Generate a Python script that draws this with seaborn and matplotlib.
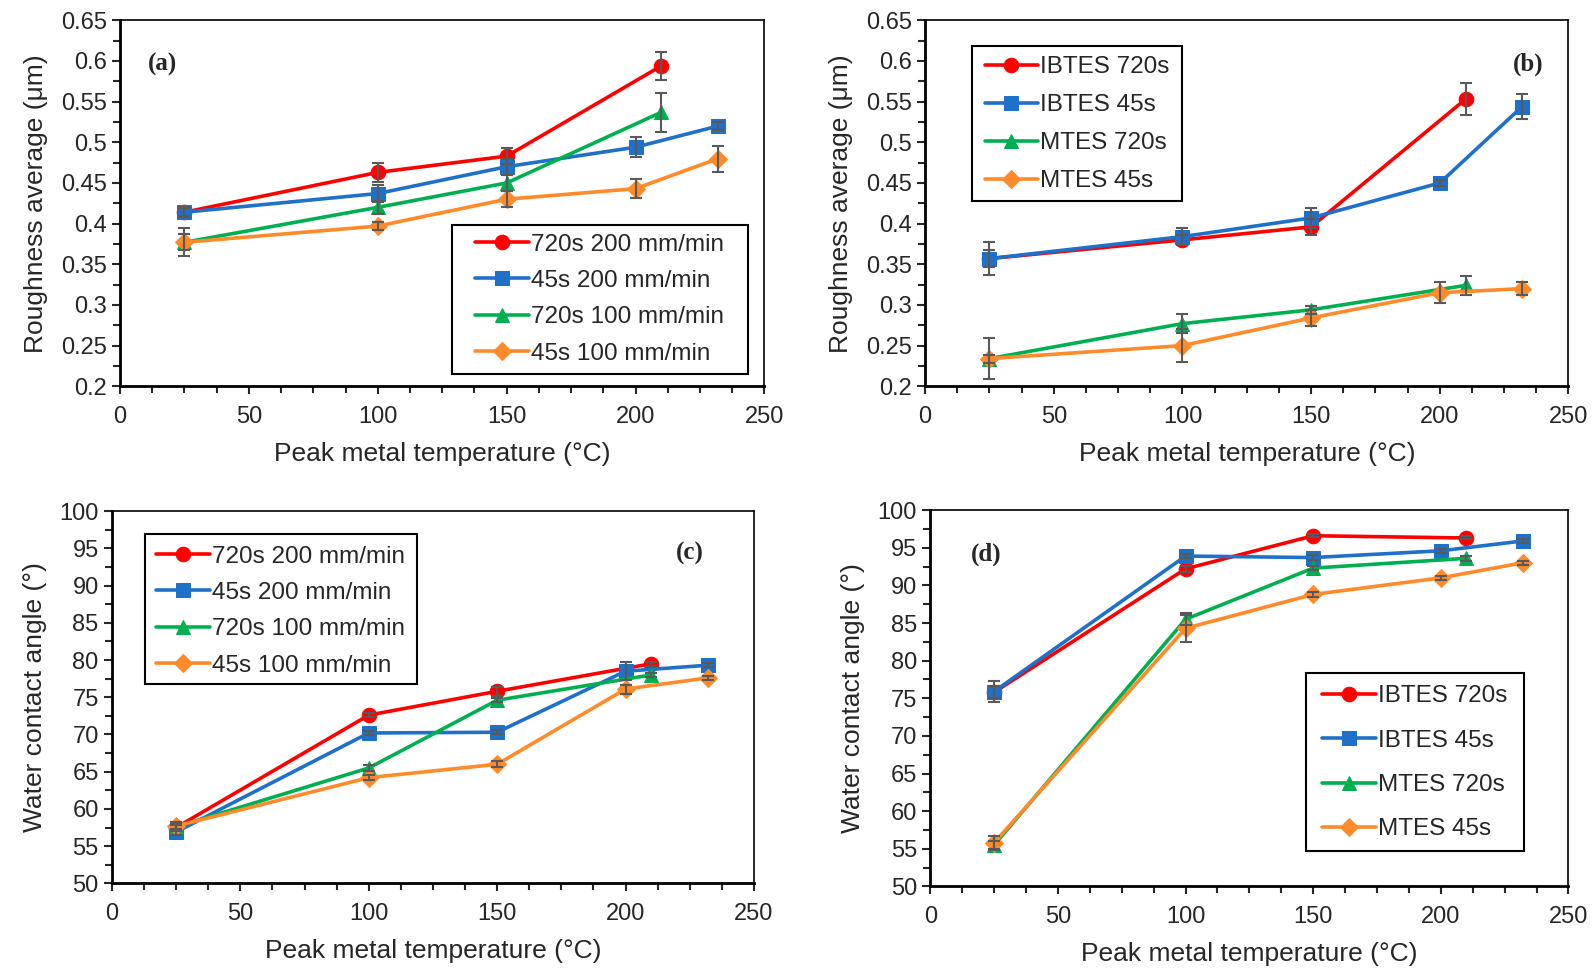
import numpy as np
import pandas as pd
import seaborn as sns
import matplotlib.pyplot as plt
from matplotlib.patches import Rectangle
from matplotlib.ticker import MultipleLocator, FuncFormatter

# ---- data ----
temp_720 = [25, 100, 150, 210]
temp_45 = [25, 100, 150, 200, 232]

# (a) roughness, crosslinked at two speeds
ra_720_200 = [0.414, 0.463, 0.483, 0.594]
ra_720_200_err = [0.005, 0.012, 0.010, 0.017]
ra_45_200 = [0.414, 0.437, 0.470, 0.494, 0.520]
ra_45_200_err = [0.006, 0.010, 0.010, 0.012, 0.005]
ra_720_100 = [0.377, 0.420, 0.450, 0.537]
ra_720_100_err = [0.017, 0.008, 0.010, 0.024]
ra_45_100 = [0.377, 0.397, 0.430, 0.443, 0.480]
ra_45_100_err = [0.010, 0.005, 0.010, 0.012, 0.016]

# (b) roughness, silane type
rb_ibtes_720 = [0.357, 0.380, 0.396, 0.553]
rb_ibtes_720_err = [0.010, 0.006, 0.010, 0.020]
rb_ibtes_45 = [0.357, 0.384, 0.407, 0.450, 0.544]
rb_ibtes_45_err = [0.020, 0.010, 0.012, 0.004, 0.015]
rb_mtes_720 = [0.234, 0.277, 0.294, 0.324]
rb_mtes_720_err = [0.005, 0.012, 0.005, 0.012]
rb_mtes_45 = [0.234, 0.250, 0.284, 0.315, 0.320]
rb_mtes_45_err = [0.025, 0.020, 0.010, 0.013, 0.008]

# (c) water contact angle, two speeds
wc_720_200 = [57.5, 72.6, 75.8, 79.5]
wc_720_200_err = [0.3, 0.3, 0.6, 0.3]
wc_45_200 = [56.9, 70.2, 70.3, 78.5, 79.3]
wc_45_200_err = [0.4, 0.3, 0.3, 1.2, 0.3]
wc_720_100 = [57.6, 65.5, 74.6, 78.0]
wc_720_100_err = [0.5, 0.4, 0.3, 0.3]
wc_45_100 = [57.7, 64.2, 66.0, 76.1, 77.6]
wc_45_100_err = [0.6, 0.3, 0.4, 0.6, 0.3]

# (d) water contact angle, silane type
wd_ibtes_720 = [75.8, 92.2, 96.6, 96.3]
wd_ibtes_720_err = [0.8, 0.4, 0.2, 0.2]
wd_ibtes_45 = [75.9, 93.9, 93.7, 94.6, 95.9]
wd_ibtes_45_err = [1.4, 0.3, 0.3, 0.3, 0.3]
wd_mtes_720 = [55.5, 85.5, 92.3, 93.6]
wd_mtes_720_err = [0.5, 0.8, 0.3, 0.3]
wd_mtes_45 = [55.8, 84.3, 88.8, 91.0, 93.0]
wd_mtes_45_err = [0.9, 1.8, 0.3, 0.3, 0.3]

labels_speed = ["720s 200 mm/min", "45s 200 mm/min", "720s 100 mm/min", "45s 100 mm/min"]
labels_silane = ["IBTES 720s", "IBTES 45s", "MTES 720s", "MTES 45s"]

colors = ["#FF0000", "#1F70C8", "#00B050", "#FF8A2A"]
markers = ["o", "s", "^", "D"]


def draw_panel(ax, series, names, letter, letter_pos, ylim, ymajor, yminor, ylabel,
               legend_bbox, legend_spacing):
    for i, (xs, ys, es) in enumerate(series):
        df = pd.DataFrame({"x": xs, "y": ys})
        sns.lineplot(data=df, x="x", y="y", ax=ax, color=colors[i], marker=markers[i],
                     markersize=10.5 if markers[i] != "D" else 9, markeredgecolor=colors[i],
                     linewidth=2.6, label=names[i], zorder=3 + i * 0.1)
        ax.errorbar(xs, ys, yerr=es, fmt="none", ecolor="#595959", elinewidth=1.5,
                    capsize=4, capthick=1.5, zorder=4)

    ax.set_xlim(0, 250)
    ax.set_ylim(*ylim)
    ax.xaxis.set_major_locator(MultipleLocator(50))
    ax.xaxis.set_minor_locator(MultipleLocator(12.5))
    ax.yaxis.set_major_locator(MultipleLocator(ymajor))
    ax.yaxis.set_minor_locator(MultipleLocator(yminor))
    ax.yaxis.set_major_formatter(FuncFormatter(lambda v, p: f"{v:g}"))
    ax.tick_params(which="major", direction="out", length=6, width=1.5, labelsize=17)
    ax.tick_params(axis="x", which="major", pad=8)
    ax.tick_params(which="minor", direction="out", length=5, width=1.5)
    for name, s in ax.spines.items():
        s.set_visible(True)
        s.set_linewidth(2.0 if name in ("left", "bottom") else 1.2)
        s.set_color("black")
    ax.set_xlabel("Peak metal temperature (°C)", fontsize=19, labelpad=10)
    ax.set_ylabel(ylabel, fontsize=19, labelpad=9)
    ax.text(letter_pos[0], letter_pos[1], letter, transform=ax.transAxes,
            fontsize=18, fontweight="bold", family=["Liberation Serif", "DejaVu Serif"],
            ha="center", va="center")
    leg = ax.legend(loc="upper left", bbox_to_anchor=legend_bbox, fontsize=17.5,
                    frameon=False, handlelength=2.2, handletextpad=0.1,
                    labelspacing=legend_spacing, borderpad=0.3, borderaxespad=0)
    leg.set_zorder(5)
    return leg


def frame_legend(fig, ax, leg, side_pad, top_pad=0, bottom_pad=0):
    # box around the legend, padded separately on the sides / top / bottom
    bb = leg.get_window_extent(fig.canvas.get_renderer())
    inv = ax.transAxes.inverted()
    (x0, y0), (x1, y1) = inv.transform([(bb.x0 - side_pad, bb.y0 - bottom_pad),
                                        (bb.x1 + side_pad, bb.y1 + top_pad)])
    ax.add_patch(Rectangle((x0, y0), x1 - x0, y1 - y0, transform=ax.transAxes,
                           facecolor="white", edgecolor="black", linewidth=1.5,
                           zorder=4.8, clip_on=False))


sns.set_style("ticks")
plt.rcParams["font.family"] = ["Liberation Sans", "DejaVu Sans"]

fig = plt.figure(figsize=(15.94, 9.68), dpi=100)
ax_a = fig.add_axes([0.0753, 0.601, 0.4043, 0.378])
ax_b = fig.add_axes([0.5804, 0.601, 0.4036, 0.378])
ax_c = fig.add_axes([0.0702, 0.0874, 0.4028, 0.3846])
ax_d = fig.add_axes([0.5836, 0.0842, 0.4004, 0.3888])

leg_a = draw_panel(ax_a,
                   [(temp_720, ra_720_200, ra_720_200_err), (temp_45, ra_45_200, ra_45_200_err),
                    (temp_720, ra_720_100, ra_720_100_err), (temp_45, ra_45_100, ra_45_100_err)],
                   labels_speed, "(a)", (0.066, 0.88), (0.2, 0.65), 0.05, 0.025,
                   "Roughness average (μm)", (0.540, 0.437), 0.59)
leg_b = draw_panel(ax_b,
                   [(temp_720, rb_ibtes_720, rb_ibtes_720_err), (temp_45, rb_ibtes_45, rb_ibtes_45_err),
                    (temp_720, rb_mtes_720, rb_mtes_720_err), (temp_45, rb_mtes_45, rb_mtes_45_err)],
                   labels_silane, "(b)", (0.937, 0.88), (0.2, 0.65), 0.05, 0.025,
                   "Roughness average (μm)", (0.081, 0.922), 0.66)
leg_c = draw_panel(ax_c,
                   [(temp_720, wc_720_200, wc_720_200_err), (temp_45, wc_45_200, wc_45_200_err),
                    (temp_720, wc_720_100, wc_720_100_err), (temp_45, wc_45_100, wc_45_100_err)],
                   labels_speed, "(c)", (0.90, 0.885), (50, 100), 5, 2.5,
                   "Water contact angle (°)", (0.058, 0.927), 0.59)
leg_d = draw_panel(ax_d,
                   [(temp_720, wd_ibtes_720, wd_ibtes_720_err), (temp_45, wd_ibtes_45, wd_ibtes_45_err),
                    (temp_720, wd_mtes_720, wd_mtes_720_err), (temp_45, wd_mtes_45, wd_mtes_45_err)],
                   labels_silane, "(d)", (0.088, 0.884), (50, 100), 5, 2.5,
                   "Water contact angle (°)", (0.603, 0.554), 0.92)

fig.canvas.draw()
frame_legend(fig, ax_a, leg_a, 16, top_pad=1, bottom_pad=2)
frame_legend(fig, ax_b, leg_b, 5, top_pad=3, bottom_pad=1)
frame_legend(fig, ax_c, leg_c, 4, top_pad=4, bottom_pad=0)
frame_legend(fig, ax_d, leg_d, 9, top_pad=5, bottom_pad=3)

fig.savefig("out.png", dpi=100)
